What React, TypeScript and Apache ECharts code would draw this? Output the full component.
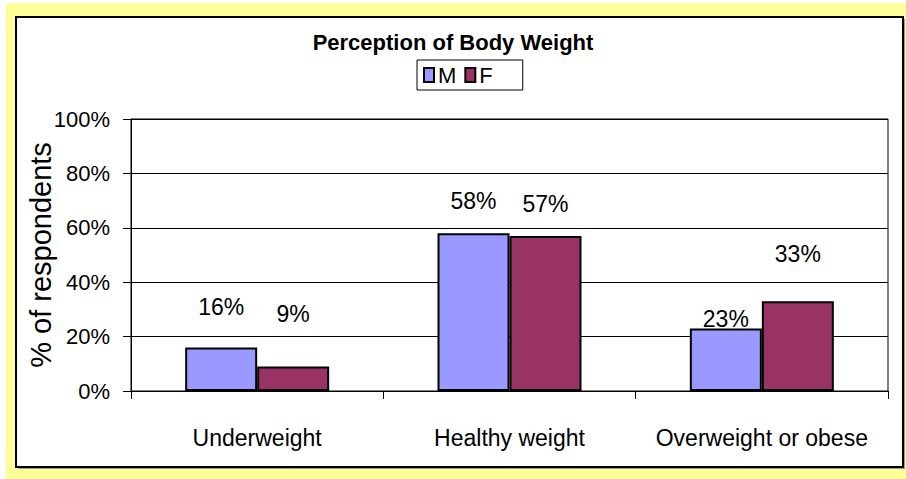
import React, { useEffect, useRef } from "react";
import * as echarts from "echarts";

const categories = ["Underweight", "Healthy weight", "Overweight or obese"];
const seriesNames = ["M", "F"];
const maleValues = [16, 58, 23];
const femaleValues = [9, 57, 33];
const yTicks = [0, 20, 40, 60, 80, 100];

// label lift above bar top (px), as placed in the reference
const maleLabelLift = [29, 21, -2];
const femaleLabelLift = [41, 20, 36];

const FONT = "'Liberation Sans', Arial, sans-serif";

export default function App() {
  const ref = useRef<HTMLDivElement>(null);
  useEffect(() => {
    if (!ref.current) return;
    const chart = echarts.init(ref.current, undefined, { renderer: "svg" });
    const mk = (vals: number[], lifts: number[]) =>
      vals.map((v, i) => ({
        value: v,
        label: { offset: [0, -lifts[i]] },
      }));
    const labelStyle = {
      show: true,
      position: "top",
      distance: 0,
      formatter: "{c}%",
      fontFamily: FONT,
      fontSize: 23,
      color: "#000",
    };
    chart.setOption({
      animation: false,
      backgroundColor: "#ffffff",
      graphic: [
        {
          type: "rect",
          z: -10,
          silent: true,
          shape: { x: 6, y: 3, width: 900, height: 476 },
          style: { fill: "#FFFF99" },
        },
        {
          type: "rect",
          z: -9,
          silent: true,
          shape: { x: 18, y: 19, width: 887, height: 450 },
          style: { fill: "#999999" },
        },
        {
          type: "rect",
          z: -8,
          silent: true,
          shape: { x: 16, y: 17, width: 887, height: 450 },
          style: { fill: "#ffffff", stroke: "#000000", lineWidth: 2 },
        },
      ],
      title: {
        text: "Perception of Body Weight",
        left: "center",
        top: 31,
        padding: 0,
        textStyle: { fontFamily: FONT, fontSize: 22, fontWeight: "bold", color: "#000" },
      },
      legend: {
        data: seriesNames,
        top: 60,
        left: 417,
        orient: "horizontal",
        padding: [4, 30, 4, 6],
        itemGap: 8,
        itemWidth: 10,
        itemHeight: 14,
        borderColor: "#000",
        borderWidth: 1,
        icon: "rect",
        textStyle: { fontFamily: FONT, fontSize: 22, color: "#000", padding: [0, 0, 0, -1] },
      },
      grid: {
        left: 131,
        top: 119,
        right: 18,
        bottom: 88,
        show: true,
        borderColor: "#000",
        borderWidth: 1,
        backgroundColor: "transparent",
      },
      xAxis: {
        type: "category",
        data: categories,
        axisLine: { show: true, lineStyle: { color: "#000", width: 1 } },
        axisTick: { show: true, length: 8, alignWithLabel: false, lineStyle: { color: "#000" } },
        axisLabel: { fontFamily: FONT, fontSize: 23, color: "#000", margin: 35, interval: 0 },
      },
      yAxis: {
        type: "value",
        min: yTicks[0],
        max: yTicks[yTicks.length - 1],
        interval: 20,
        name: "% of respondents",
        nameLocation: "middle",
        nameRotate: 90,
        nameGap: 76,
        nameMoveOverlap: false,
        nameTextStyle: { fontFamily: FONT, fontSize: 29, color: "#000" },
        axisLine: { show: true, lineStyle: { color: "#000", width: 1 } },
        axisTick: { show: true, inside: false, length: 8, lineStyle: { color: "#000" } },
        axisLabel: { formatter: "{value}%", fontFamily: FONT, fontSize: 22, color: "#000", margin: 21 },
        splitLine: { show: true, lineStyle: { color: "#000", width: 1 } },
      },
      series: [
        {
          name: seriesNames[0],
          type: "bar",
          data: mk(maleValues, maleLabelLift),
          barWidth: 72,
          barGap: "0%",
          itemStyle: { color: "#9999FF", borderColor: "#000", borderWidth: 2 },
          label: labelStyle,
        },
        {
          name: seriesNames[1],
          type: "bar",
          data: mk(femaleValues, femaleLabelLift),
          barWidth: 72,
          barGap: "0%",
          itemStyle: { color: "#993366", borderColor: "#000", borderWidth: 2 },
          label: labelStyle,
        },
      ],
    });
    return () => chart.dispose();
  }, []);
  return (
    <div
      ref={ref}
      style={{ position: "fixed", left: 0, top: 0, width: 906, height: 479 }}
    />
  );
}
